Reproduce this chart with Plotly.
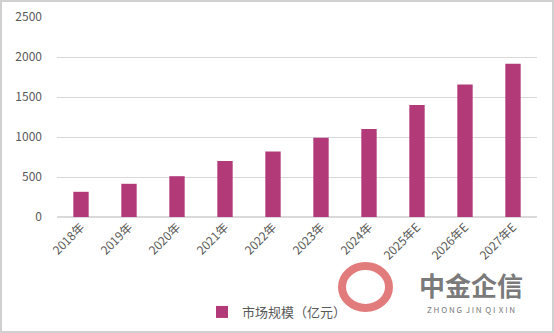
import plotly.graph_objects as go

categories = ["2018年", "2019年", "2020年", "2021年", "2022年", "2023年", "2024年", "2025年E", "2026年E", "2027年E"]
values = [315, 415, 510, 700, 820, 990, 1100, 1400, 1655, 1915]
series_name = "市场规模（亿元）"
y_ticks = [0, 500, 1000, 1500, 2000, 2500]

L, T, W, H = 57, 17, 480, 200

def px(x):
    return (x - L) / W

def py(y):
    return (T + H - y) / H

fig = go.Figure()
fig.add_trace(go.Bar(
    x=categories, y=values, name=series_name,
    marker=dict(color="#b23a78", line=dict(width=0)),
    width=0.32,
))

fig.update_layout(
    width=554, height=333,
    margin=dict(l=L, r=554 - L - W, t=T, b=333 - T - H, autoexpand=False),
    paper_bgcolor="white", plot_bgcolor="white",
    font=dict(family="Noto Sans CJK SC, sans-serif", color="#595959", size=12),
    showlegend=True,
    legend=dict(orientation="h", x=px(277), xanchor="center", y=py(297), yanchor="top",
                font=dict(size=13, color="#595959"), itemwidth=30, bgcolor="rgba(0,0,0,0)"),
    xaxis=dict(tickangle=-45, showgrid=False, showline=False, ticks="", automargin=False,
               tickfont=dict(size=12, color="#595959")),
    yaxis=dict(range=[0, 2500], tickvals=y_ticks, showgrid=True, gridcolor="#d9d9d9",
               gridwidth=1, zeroline=True, zerolinecolor="#d9d9d9", showline=False,
               automargin=False, ticks="", ticklabelstandoff=14,
               tickfont=dict(size=12, color="#595959")),
    shapes=[
        dict(type="rect", xref="paper", yref="paper", x0=px(1), x1=px(553),
             y0=py(332), y1=py(1), line=dict(color="#d0d0d0", width=2)),
        dict(type="circle", xref="paper", yref="paper", x0=px(342), x1=px(389),
             y0=py(308), y1=py(266), line=dict(color="#e27b7b", width=8), layer="below"),
    ],
    annotations=[
        dict(text="<b>中金企信</b>", xref="paper", yref="paper", x=px(471), y=py(284),
             showarrow=False, font=dict(size=26, color="#7a7a7a"), xanchor="center", yanchor="middle"),
        dict(text="Z H O N G  J I N  Q I  X I N", xref="paper", yref="paper", x=px(471), y=py(309),
             showarrow=False, font=dict(size=8, color="#7a7a7a"), xanchor="center", yanchor="middle"),
    ],
)

fig.write_html("out.html")
